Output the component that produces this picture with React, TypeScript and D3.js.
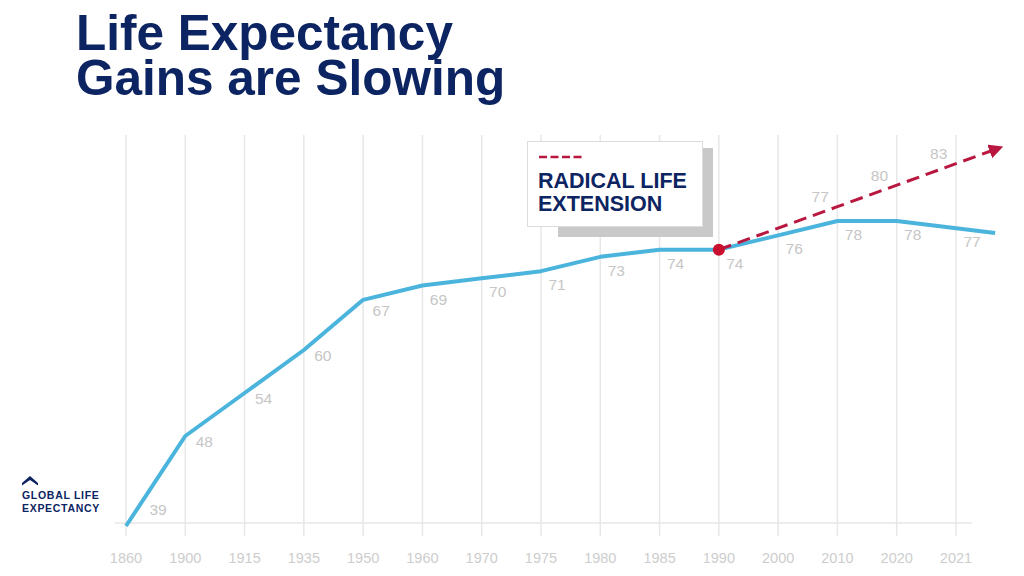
import React from "react";
import * as d3 from "d3";

const years = ["1860","1900","1915","1935","1950","1960","1970","1975","1980","1985","1990","2000","2010","2020","2021"];
const lifeExpectancy = [39,48,54,60,67,69,70,71,73,74,74,76,78,78,77];
const radicalYears = ["1990","2000","2010","2020"];
const radicalValues = [74,77,80,83];
const titleLines = ["Life Expectancy", "Gains are Slowing"];
const legendLines = ["RADICAL LIFE", "EXTENSION"];
const sideLabel = ["GLOBAL LIFE", "EXPECTANCY"];

const W = 1024, H = 576;
const NAVY = "#0c2461";
const BLUE = "#4bb4dd";
const RED = "#b8173f";
const DOT = "#c8102e";
const GRID = "#e7e7e7";
const LABEL = "#c6c6c6";
const FONT = "'Liberation Sans', Arial, Helvetica, sans-serif";

export default function App() {
  const x = d3.scalePoint<string>().domain(years).range([126, 956]);
  const step = x.step();
  const y = d3.scaleLinear().domain([39, 48, 78]).range([526, 436, 221]);
  const extendX = x(years[years.length - 1])! + step * 0.66;

  const extend = (pts: [number, number][]) => {
    const a = pts[pts.length - 2], b = pts[pts.length - 1];
    const t = (extendX - a[0]) / (b[0] - a[0]);
    return [...pts.slice(0, -1), [extendX, a[1] + (b[1] - a[1]) * t] as [number, number]];
  };

  const bluePts: [number, number][] = years.map((yr, i) => [x(yr)!, y(lifeExpectancy[i])]);
  const blueLine = d3.line()(extend(bluePts))!;

  const redPts: [number, number][] = radicalYears.map((yr, i) => [x(yr)!, y(radicalValues[i])]);
  const redLine = d3.line()(extend(redPts))!;

  const baseY = 523;
  const gridTop = 135, gridBottom = 536;

  const labelOffset = (i: number): [number, number] => {
    if (i === 0) return [32, -17];
    if (i <= 3) return [19, 5];
    if (i === 4) return [18, 10];
    return [16, 13];
  };

  return (
    <div style={{ position: "absolute", left: 0, top: 0 }}>
      <svg width={W} height={H} style={{ display: "block", background: "#fff" }} fontFamily={FONT}>
        <defs>
          <marker id="arrow" viewBox="0 0 10 10" refX="4" refY="5" markerWidth="4.8" markerHeight="4.8" orient="auto" markerUnits="strokeWidth">
            <path d="M0,0 L10,5 L0,10 z" fill={RED} />
          </marker>
        </defs>

        {/* Title */}
        {titleLines.map((t, i) => (
          <text key={t} x={76} y={50 + i * 45} fontSize={49.5} fontWeight="bold" fill={NAVY}>{t}</text>
        ))}

        {/* Grid */}
        {years.map(yr => (
          <line key={yr} x1={x(yr)} x2={x(yr)} y1={gridTop} y2={gridBottom} stroke={GRID} strokeWidth={1.5} />
        ))}
        <line x1={115} x2={972} y1={baseY} y2={baseY} stroke={GRID} strokeWidth={1.5} />

        {/* X tick labels */}
        {years.map(yr => (
          <text key={yr} x={x(yr)} y={563} textAnchor="middle" fontSize={14.5} fill="#cdcdcd">{yr}</text>
        ))}

        {/* Legend box */}
        <rect x={558} y={148} width={155} height={89} fill="#c9c9c9" />
        <rect x={527.5} y={141.5} width={175} height={85} fill="#fff" stroke="#dcdcdc" strokeWidth={1} />
        <line x1={539} x2={582} y1={157} y2={157} stroke={RED} strokeWidth={2.5} strokeDasharray="8,3.5" />
        {legendLines.map((t, i) => (
          <text key={t} x={538} y={188 + i * 23} fontSize={21.5} fontWeight="bold" fill={NAVY}>{t}</text>
        ))}

        {/* Blue line */}
        <path d={blueLine} fill="none" stroke={BLUE} strokeWidth={4} strokeLinejoin="round" />

        {/* Value labels */}
        {years.map((yr, i) => {
          const [dx, dy] = labelOffset(i);
          return (
            <text key={yr} x={x(yr)! + dx} y={y(lifeExpectancy[i]) + dy + 6} textAnchor="middle" fontSize={15.5} fill={LABEL}>
              {lifeExpectancy[i]}
            </text>
          );
        })}

        {/* Red dashed projection */}
        <path d={redLine} fill="none" stroke={RED} strokeWidth={3} strokeDasharray="13,7" markerEnd="url(#arrow)" />
        {radicalYears.slice(1).map((yr, j) => (
          <text key={yr} x={x(yr)! + 42} y={y(radicalValues[j + 1]) - 32 + 6} textAnchor="middle" fontSize={15.5} fill={LABEL}>
            {radicalValues[j + 1]}
          </text>
        ))}
        <circle cx={x(radicalYears[0])} cy={y(radicalValues[0])} r={6} fill={DOT} />

        {/* Side label */}
        <path d="M22,483 L30,476 L38,483 L38,485.5 L30,480 L22,485.5 Z" fill={NAVY} />
        {sideLabel.map((t, i) => (
          <text key={t} x={22} y={499 + i * 12.5} fontSize={10.5} fontWeight="bold" fill={NAVY} letterSpacing={0.7}>{t}</text>
        ))}
      </svg>
    </div>
  );
}
